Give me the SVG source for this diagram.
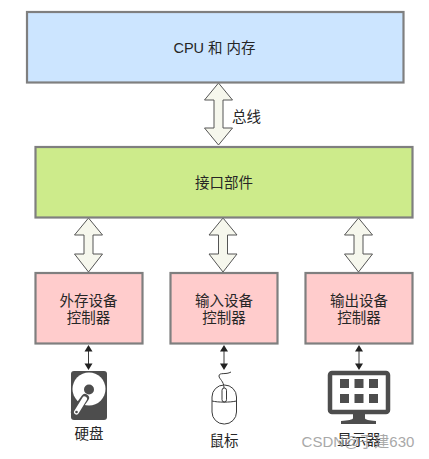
<svg xmlns="http://www.w3.org/2000/svg" width="429" height="459" viewBox="0 0 429 459">
<style>
text{font-family:"Liberation Sans","Noto Sans CJK SC",sans-serif;font-size:14.500px;fill:#262626;text-anchor:middle}
.box{stroke:#7f7f7f;stroke-width:2.200}
.big{fill:#f6f7ed;stroke:#555;stroke-width:1}
.thin{stroke:#3a3a3a;stroke-width:1;fill:none}
.ico{fill:#4d4d4d}
</style>
<defs>
<path id="dbl" class="big" d="M0 0L14 17H4.500V45H14L0 62L-14 45H-4.500V17H-14Z"/>
<path id="dbls" class="big" d="M0 0L14 17H4.500V36H14L0 54L-14 36H-4.500V17H-14Z"/>
<g id="thinarrow"><path class="thin" d="M0 3V22"/><path fill="#222" d="M0 0L4 6.500H-4ZM0 25L-4 18.500H4Z"/></g>
</defs>
<rect width="429" height="459" fill="#fff"/>
<g id="connectors">
<use href="#dbl" x="218.500" y="83"/>
<use href="#dbls" x="88.500" y="218"/>
<use href="#dbls" x="223" y="218"/>
<use href="#dbls" x="358.500" y="218"/>
<use href="#thinarrow" x="88.500" y="345"/>
<use href="#thinarrow" x="224" y="345"/>
<use href="#thinarrow" x="359" y="345"/>
</g>
<g id="bus-label"><text x="246.500" y="122">总线</text></g>
<g id="cpu"><rect class="box" x="27" y="12" width="376.500" height="70.500" fill="#cce5ff"/><text x="214.500" y="52.500">CPU 和 内存</text></g>
<g id="interface"><rect class="box" x="35.500" y="147" width="377" height="70.500" fill="#cdeb8b"/><text x="224" y="187.500">接口部件</text></g>
<g id="ctrl-storage"><rect class="box" x="35.500" y="273" width="107" height="70.500" fill="#ffcccc"/><text x="88.500" y="305.500">外存设备</text><text x="88.500" y="322.500">控制器</text></g>
<g id="ctrl-input"><rect class="box" x="170.500" y="273" width="107" height="70.500" fill="#ffcccc"/><text x="224" y="305.500">输入设备</text><text x="224" y="322.500">控制器</text></g>
<g id="ctrl-output"><rect class="box" x="305.500" y="273" width="107" height="70.500" fill="#ffcccc"/><text x="359" y="305.500">输出设备</text><text x="359" y="322.500">控制器</text></g>
<g id="disk">
<rect class="ico" x="71" y="371" width="36" height="49" rx="3"/>
<circle cx="89" cy="389" r="16.500" fill="#fff"/>
<circle cx="89" cy="389.500" r="5" class="ico"/>
<path d="M85 398L75 412" stroke="#4d4d4d" stroke-width="8" stroke-linecap="round"/>
<path d="M84.500 399L76.500 412" stroke="#fff" stroke-width="5" stroke-linecap="round"/>
<circle cx="76.500" cy="412" r="1.300" class="ico"/>
<text x="89" y="439">硬盘</text>
</g>
<g id="mouse">
<path class="thin" d="M231 372C226 375 219 372 219 376C219 379 224 381 224 388"/>
<rect class="thin" x="212" y="385" width="24.500" height="39" rx="12"/>
<path class="thin" d="M212 401C218 402.500 230 402.500 236.500 401"/>
<rect class="thin" x="222" y="388" width="4.500" height="14" rx="2.250"/>
<text x="224" y="445.500">鼠标</text>
</g>
<g id="monitor">
<rect x="330" y="373" width="58" height="39" rx="2" fill="#fff" stroke="#4d4d4d" stroke-width="4.500"/>
<g class="ico"><rect x="340" y="379" width="9" height="9"/><rect x="354.500" y="379" width="9" height="9"/><rect x="369" y="379" width="9" height="9"/><rect x="340" y="394" width="9" height="9"/><rect x="354.500" y="394" width="9" height="9"/><rect x="369" y="394" width="9" height="9"/>
<path d="M353 414H365V418C365 420 369 420 376 421V424H341V421C348 420 353 420 353 418Z"/></g>
<text x="359" y="445">显示器</text>
</g>
<text id="watermark" x="358" y="447" style="font-size:15px;fill:#9a9a9a;opacity:.85">CSDN@于建630</text>
</svg>
